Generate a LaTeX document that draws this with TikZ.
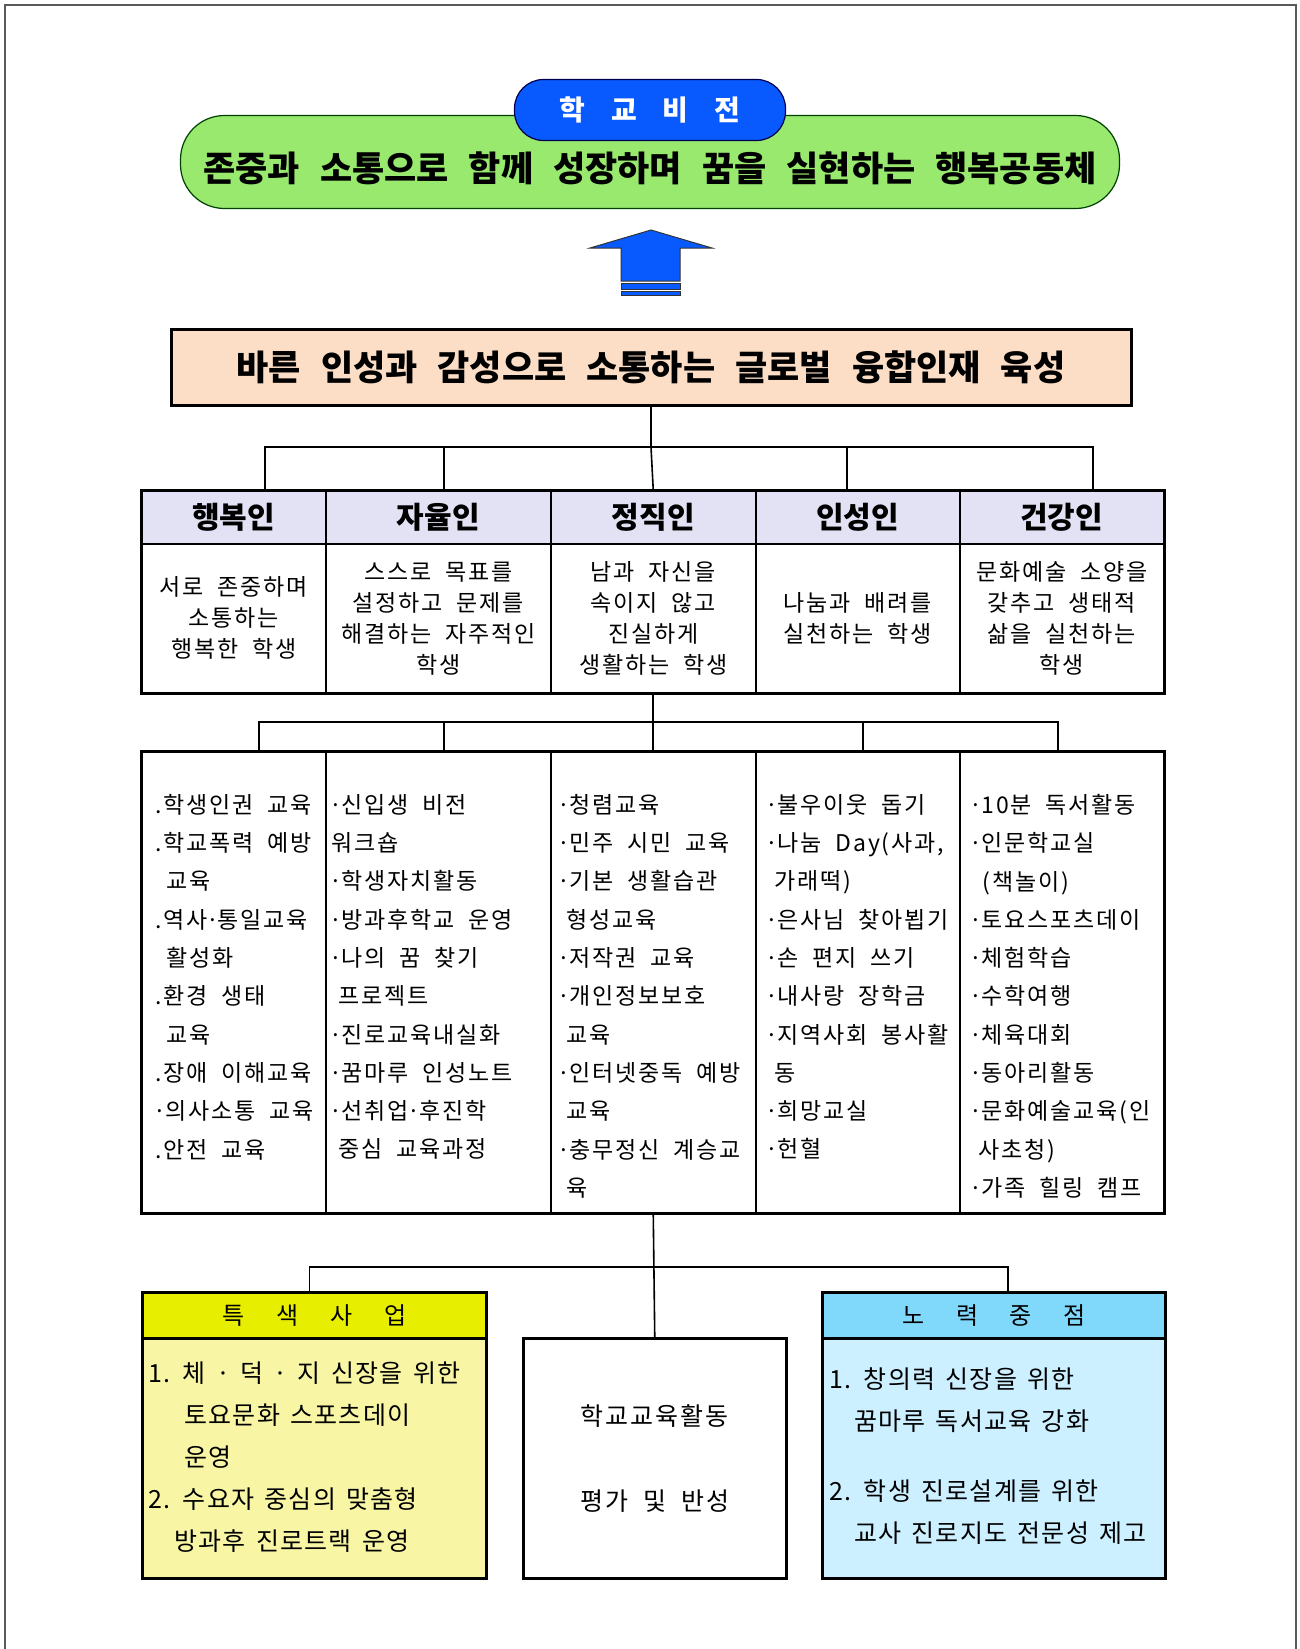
\documentclass[tikz,border=0pt]{standalone}
\usepackage{fontspec}
\setmainfont{Noto Sans CJK KR}
\newfontfamily\krhead[WordSpace=2.5]{Noto Sans CJK KR}
\newfontfamily\krtext[LetterSpace=8,WordSpace=2]{Noto Sans CJK KR}
\newfontfamily\krbox[LetterSpace=5,WordSpace=1.5]{Noto Sans CJK KR}
\usepackage{tikz}
\usetikzlibrary{positioning}

\definecolor{visiongreen}{RGB}{152,233,110}
\definecolor{visionblue}{RGB}{8,90,255}
\definecolor{goalpeach}{RGB}{252,222,198}
\definecolor{headlav}{RGB}{226,226,244}
\definecolor{featyellow}{RGB}{232,238,0}
\definecolor{featpale}{RGB}{248,246,164}
\definecolor{focuscyan}{RGB}{128,216,250}
\definecolor{focuspale}{RGB}{204,240,255}

\newcommand{\md}{\makebox[0.45em]{·}}

\begin{document}
\begin{tikzpicture}
  [x=1pt,y=-1pt,every node/.style={inner sep=0pt},
   link/.style={line width=1.6pt},
   cell/.style={draw=black,line width=1.5pt,anchor=north west,fill=white},
   head/.style={cell,fill=headlav,minimum height=53,font=\bfseries\fontsize{30}{32}\selectfont},
   aim/.style={cell,minimum height=149,align=center,font={\krtext\fontsize{23}{31}\selectfont}},
   task/.style={cell,minimum height=461},
   item/.style={anchor=north west,align=left,font={\krtext\fontsize{23}{38.3}\selectfont}},
   boxhead/.style={cell,line width=3pt,minimum height=46,font=\fontsize{24}{28}\selectfont},
   boxbody/.style={cell,line width=3pt,minimum height=240},
   boxtext/.style={anchor=north west,align=left,font={\krbox\fontsize{25}{42}\selectfont}}]

  \useasboundingbox (0,0) rectangle (1299,1649);
  \draw[black!65,line width=1.5pt] (5,1649) -- (5,5) -- (1296,5) -- (1296,1649);

  \node[draw=black!75!green,line width=1.2pt,fill=visiongreen,rounded corners=44pt,
        minimum width=939,minimum height=93,font=\krhead\bfseries\fontsize{35}{38}\selectfont]
        (vision) at (650,162) {\raisebox{-19pt}[0pt][0pt]{존중과 소통으로 함께 성장하며 꿈을 실현하는 행복공동체}};
  \node[draw=black!70!blue,line width=1.2pt,fill=visionblue,rounded corners=29pt,text=white,
        minimum width=271,minimum height=61,font=\bfseries\fontsize{28}{30}\selectfont]
        (title) at (650,110) {학 \hspace{0.7em}교 \hspace{0.7em}비 \hspace{0.7em}전};

  \filldraw[fill=visionblue,draw=black!80,line width=1pt]
    (621,281) -- (621,248) -- (590,248) -- (651,230) -- (712,248) -- (680,248) -- (680,281) -- cycle;
  \filldraw[fill=visionblue,draw=black!80,line width=1pt] (621,283) rectangle (680,289);
  \filldraw[fill=visionblue,draw=black!80,line width=1pt] (621,291) rectangle (680,295);

  \node[draw,line width=3pt,fill=goalpeach,minimum width=960,minimum height=76,
        font=\krhead\bfseries\fontsize{35}{40}\selectfont]
        (goal) at (651,367) {바른 인성과 감성으로 소통하는 글로벌 융합인재 육성};

  \node[head,minimum width=184] (h1) at (141,490) {행복인};
  \node[head,minimum width=225] (h2) at (325,490) {자율인};
  \node[head,minimum width=205] (h3) at (550,490) {정직인};
  \node[head,minimum width=204] (h4) at (755,490) {인성인};
  \node[head,minimum width=204] (h5) at (959,490) {건강인};

  \node[aim,minimum width=184] (b1) at (141,543) {서로 존중하며\\소통하는\\행복한 학생};
  \node[aim,minimum width=225] (b2) at (325,543) {스스로 목표를\\설정하고 문제를\\해결하는 자주적인\\학생};
  \node[aim,minimum width=205] (b3) at (550,543) {남과 자신을\\속이지 않고\\진실하게\\생활하는 학생};
  \node[aim,minimum width=204] (b4) at (755,543) {나눔과 배려를\\실천하는 학생};
  \node[aim,minimum width=204] (b5) at (959,543) {문화예술 소양을\\갖추고 생태적\\삶을 실천하는\\학생};
  \draw[line width=2.6pt] (h1.north west) rectangle (b5.south east);

  \coordinate (j1) at (goal.south |- 0,447);
  \draw[link] (goal.south) -- (j1);
  \draw[link] ([xshift=31pt]h1.north) |- (j1) -| ([xshift=31pt]h5.north);
  \draw[link] ([xshift=6pt]h2.north) |- (j1);
  \draw[link] ([xshift=-11pt]h4.north) |- (j1);
  \draw[link] (j1) -- (h3.north);

  \node[task,minimum width=184] (c1) at (141,751) {};
  \node[task,minimum width=225] (c2) at (325,751) {};
  \node[task,minimum width=205] (c3) at (550,751) {};
  \node[task,minimum width=204] (c4) at (755,751) {};
  \node[task,minimum width=204] (c5) at (959,751) {};
  \draw[line width=2.6pt] (c1.north west) rectangle (c5.south east);

  \node[item] (l1) at ([shift={(14,43)}]c1.north west)
    {.학생인권 교육\\.학교폭력 예방\\\hspace{0.5em}교육\\.역사\md 통일교육\\\hspace{0.5em}활성화\\.환경 생태\\\hspace{0.5em}교육\\.장애 이해교육\\\md 의사소통 교육\\.안전 교육};
  \node[item] (l2) at ([shift={(6,43)}]c2.north west)
    {\md 신입생 비전\\워크숍\\\md 학생자치활동\\\md 방과후학교 운영\\\md 나의 꿈 찾기\\\hspace{0.3em}프로젝트\\\md 진로교육내실화\\\md 꿈마루 인성노트\\\md 선취업\md 후진학\\\hspace{0.3em}중심 교육과정};
  \node[item] (l3) at ([shift={(9,43)}]c3.north west)
    {\md 청렴교육\\\md 민주 시민 교육\\\md 기본 생활습관\\\hspace{0.3em}형성교육\\\md 저작권 교육\\\md 개인정보보호\\\hspace{0.3em}교육\\\md 인터넷중독 예방\\\hspace{0.3em}교육\\\md 충무정신 계승교\\\hspace{0.3em}육};
  \node[item] (l4) at ([shift={(12,43)}]c4.north west)
    {\md 불우이웃 돕기\\\md 나눔 Day(사과,\\\hspace{0.3em}가래떡)\\\md 은사님 찾아뵙기\\\md 손 편지 쓰기\\\md 내사랑 장학금\\\md 지역사회 봉사활\\\hspace{0.3em}동\\\md 희망교실\\\md 헌혈};
  \node[item] (l5) at ([shift={(12,43)}]c5.north west)
    {\md 10분 독서활동\\\md 인문학교실\\\hspace{0.5em}(책놀이)\\\md 토요스포츠데이\\\md 체험학습\\\md 수학여행\\\md 체육대회\\\md 동아리활동\\\md 문화예술교육(인\\\hspace{0.3em}사초청)\\\md 가족 힐링 캠프};

  \coordinate (j2) at (b3.south |- 0,722);
  \draw[link] (b3.south) -- (c3.north);
  \draw[link] ([xshift=25pt]c1.north) |- (j2) -| ([xshift=-4pt]c5.north);
  \draw[link] ([xshift=6pt]c2.north) |- (j2);
  \draw[link] ([xshift=5pt]c4.north) |- (j2);

  \node[boxhead,fill=featyellow,minimum width=344] (fh) at (141,1291)
    {특 \hspace{1.1em}색 \hspace{1.1em}사 \hspace{1.1em}업};
  \node[boxbody,fill=featpale,minimum width=344] (fb) at (141,1337) {};
  \node[boxtext] (ft) at ([shift={(7,25)}]fb.north west)
    {1. 체 · 덕 · 지 신장을 위한\\\hspace{1.45em}토요문화 스포츠데이\\\hspace{1.45em}운영\\2. 수요자 중심의 맞춤형\\\hspace{1.05em}방과후 진로트랙 운영};

  \node[cell,line width=2.5pt,minimum width=263,minimum height=240,align=center,
        font={\krtext\fontsize{25}{85}\selectfont}] (eval) at (522,1337) {학교교육활동\\평가 및 반성};

  \node[boxhead,fill=focuscyan,minimum width=343] (nh) at (821,1291)
    {노 \hspace{1.1em}력 \hspace{1.1em}중 \hspace{1.1em}점};
  \node[boxbody,fill=focuspale,minimum width=343] (nb) at (821,1337) {};
  \node[boxtext] (nt) at ([shift={(8,31)}]nb.north west)
    {1. 창의력 신장을 위한\\\hspace{1em}꿈마루 독서교육 강화\\[28pt]2. 학생 진로설계를 위한\\\hspace{1em}교사 진로지도 전문성 제고};

  \coordinate (j3) at (c3.south |- 0,1267);
  \draw[link] (c3.south) -- (eval.north);
  \draw[link] ([xshift=-5pt]fh.north) |- (j3) -| ([xshift=14pt]nh.north);
\end{tikzpicture}
\end{document}
